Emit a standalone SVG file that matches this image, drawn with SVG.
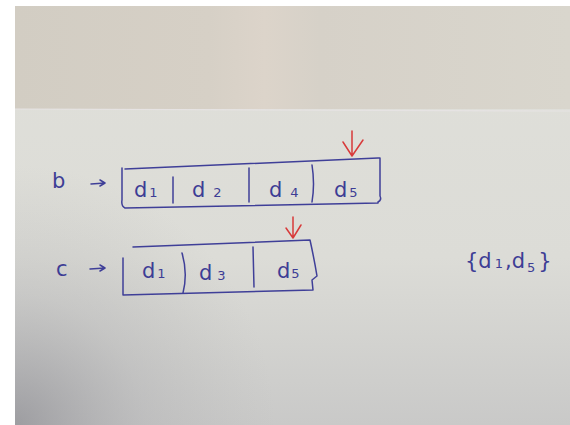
<svg xmlns="http://www.w3.org/2000/svg" width="570" height="425" viewBox="0 0 570 425">
<defs>
<linearGradient id="topband" x1="0" y1="0" x2="1" y2="0">
<stop offset="0" stop-color="#d2cdc3"/>
<stop offset="0.35" stop-color="#d6d0c6"/>
<stop offset="0.45" stop-color="#dcd4ca"/>
<stop offset="0.55" stop-color="#d6d1c8"/>
<stop offset="1" stop-color="#d9d6cd"/>
</linearGradient>
<linearGradient id="lowv" x1="0" y1="0" x2="0" y2="1">
<stop offset="0" stop-color="#e0e0da"/>
<stop offset="0.6" stop-color="#dcdcd7"/>
<stop offset="1" stop-color="#c9c9c8"/>
</linearGradient>
<radialGradient id="corner" cx="15" cy="425" r="260" gradientUnits="userSpaceOnUse">
<stop offset="0" stop-color="#8a8a90" stop-opacity="0.7"/>
<stop offset="0.5" stop-color="#a4a4a8" stop-opacity="0.3"/>
<stop offset="1" stop-color="#b0b0b0" stop-opacity="0"/>
</radialGradient>
<style>
.ink{fill:none;stroke:#3f3f98;stroke-width:1.5;stroke-linecap:round;stroke-linejoin:round}
.red{fill:none;stroke:#d83a3a;stroke-width:1.5;stroke-linecap:round;stroke-linejoin:round}
.t{font-family:"DejaVu Sans","Liberation Sans",sans-serif;fill:#3d3d95;font-size:21px}
.s{font-size:13px}
</style>
</defs>
<rect width="570" height="425" fill="#ffffff"/>
<g id="background">
<rect x="15" y="6" width="555" height="419" fill="url(#lowv)"/>
<rect x="15" y="109" width="555" height="316" fill="url(#corner)"/>
<rect x="15" y="6" width="555" height="103" fill="url(#topband)"/>
<line x1="15" y1="109" x2="570" y2="111" stroke="#e6e3e3" stroke-width="1.2"/>
</g>
<g id="connectors">
<path class="ink" d="M91 184 L105 183 M100 180 L105 183 L100 186"/>
<path class="ink" d="M90 269 L105 268 M100 265 L105 268 L100 271"/>
<path class="red" d="M352 131 L352 155 M343 142 L352 156 L363 140"/>
<path class="red" d="M293 217 L293 237 M286 228 L293 238 L301 225"/>
</g>
<g id="node-b-label"><text class="t" x="52" y="188">b</text></g>
<g id="node-c-label"><text class="t" x="56" y="276">c</text></g>
<g id="node-b-array">
<path class="ink" d="M125 169 L378 158 L380 158 L380 196 Q382 200 378 202 L378 203 L125 208 Q121 206 122 200 L122 168"/>
<path class="ink" d="M173 177 L173 203"/>
<path class="ink" d="M249 168 L249 202"/>
<path class="ink" d="M312 165 Q315 184 312 202"/>
<text class="t" x="134" y="197">d<tspan class="s" dx="2">1</tspan></text>
<text class="t" x="192" y="197">d<tspan class="s" dx="8">2</tspan></text>
<text class="t" x="269" y="197">d<tspan class="s" dx="8">4</tspan></text>
<text class="t" x="334" y="197">d<tspan class="s" dx="2">5</tspan></text>
</g>
<g id="node-c-array">
<path class="ink" d="M133 247 L310 240 Q314 258 317 276 L312 280 L313 290 L123 295 L123 258"/>
<path class="ink" d="M182 253 Q188 273 183 293"/>
<path class="ink" d="M253 247 L254 287"/>
<text class="t" x="142" y="278">d<tspan class="s" dx="2">1</tspan></text>
<text class="t" x="199" y="280">d<tspan class="s" dx="5">3</tspan></text>
<text class="t" x="277" y="278">d<tspan class="s" dx="1">5</tspan></text>
</g>
<g id="node-set">
<text class="t" x="465" y="268">{d<tspan class="s" dx="3">1</tspan><tspan dx="2">,d</tspan><tspan class="s" dx="2" dy="4">5</tspan><tspan dx="3" dy="-4">}</tspan></text>
</g>
</svg>
